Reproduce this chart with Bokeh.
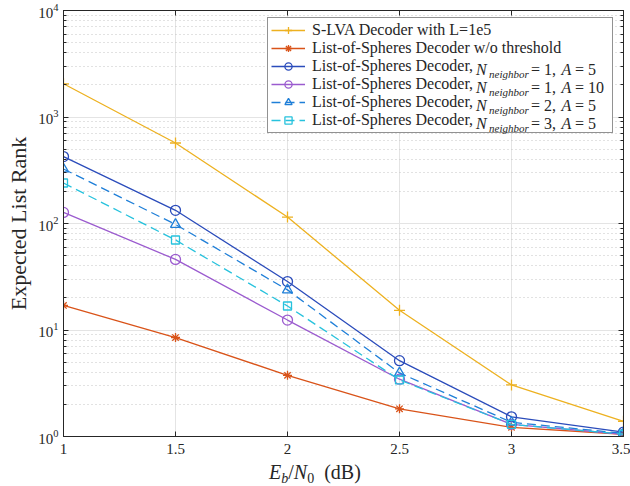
from bokeh.plotting import figure
from bokeh.models import (Legend, LegendItem, FixedTicker, LogAxis, LinearAxis,
                          CustomJSTickFormatter, Range1d, Div)
from bokeh.layouts import column
from bokeh.embed import file_html
from bokeh.resources import INLINE

# ---------------- data ----------------
ebn0 = [1.0, 1.5, 2.0, 2.5, 3.0, 3.5]
slva = [2050, 570, 115, 15.3, 3.05, 1.39]
los_nothr = [17.0, 8.5, 3.75, 1.82, 1.22, 1.05]
los_n1_a5 = [425, 133, 28.5, 5.15, 1.53, 1.10]
los_n1_a10 = [127, 46, 12.4, 3.45, 1.30, 1.05]
los_n2_a5 = [325, 98, 23.8, 3.95, 1.36, 1.07]
los_n3_a5 = [240, 70, 16.8, 3.40, 1.30, 1.05]

x_ticks = [1, 1.5, 2, 2.5, 3, 3.5]
y_major = [1, 10, 100, 1000, 10000]
y_minor = [m * 10 ** d for d in range(4) for m in range(2, 10)]

legend_main = ["S-LVA Decoder with L=1e5", "List-of-Spheres Decoder w/o threshold",
               "List-of-Spheres Decoder,", "List-of-Spheres Decoder,",
               "List-of-Spheres Decoder,", "List-of-Spheres Decoder,"]
n_neighbor = [None, None, "1", "1", "2", "3"]
a_value = [None, None, "5", "10", "5", "5"]

SERIF = "Liberation Serif"
AX = "#262626"

p = figure(width=630, height=466, y_axis_type="log",
           x_range=Range1d(1, 3.5), y_range=Range1d(1, 1e4),
           output_backend="svg", toolbar_location=None,
           min_border_left=63, min_border_right=7, min_border_top=10, min_border_bottom=30)
p.outline_line_color = AX
p.background_fill_color = "white"

xt = FixedTicker(ticks=x_ticks)
yt = FixedTicker(ticks=y_major, minor_ticks=y_minor)
fmt = CustomJSTickFormatter(code="return tick.toString();")
blank = CustomJSTickFormatter(code="return '';")

bottom_ax = p.below[0]
left_ax = p.left[0]
bottom_ax.ticker = xt
bottom_ax.formatter = fmt
left_ax.ticker = yt

top_ax = LinearAxis(ticker=xt, formatter=blank)
right_ax = LogAxis(ticker=yt, formatter=blank)
p.add_layout(top_ax, "above")
p.add_layout(right_ax, "right")

for ax in [bottom_ax, left_ax, top_ax, right_ax]:
    ax.axis_line_color = AX
    ax.axis_line_width = 1
    ax.major_tick_line_color = AX
    ax.minor_tick_line_color = AX
    ax.major_tick_in = 5
    ax.major_tick_out = 0
    ax.minor_tick_in = 3
    ax.minor_tick_out = 0
    ax.major_label_text_font = SERIF
    ax.major_label_text_font_size = "15px"
    ax.major_label_text_color = AX
    ax.major_label_standoff = 5
bottom_ax.major_label_standoff = 7
for ax in [bottom_ax, top_ax]:
    ax.minor_tick_line_color = None
for ax in [top_ax, right_ax]:
    ax.major_label_standoff = 0

left_ax.axis_label = "Expected List Rank"
left_ax.axis_label_text_font = SERIF
left_ax.axis_label_text_font_size = "22px"
left_ax.axis_label_text_font_style = "normal"
left_ax.axis_label_text_color = AX
left_ax.axis_label_standoff = 4

p.xgrid.ticker = xt
p.ygrid.ticker = yt
p.xgrid.grid_line_color = "#e4e4e4"
p.ygrid.grid_line_color = "#e4e4e4"
p.ygrid.minor_grid_line_color = "#c4c4c4"
p.ygrid.minor_grid_line_dash = "1 3"
p.ygrid.minor_grid_line_width = 1

styles = [
    (slva, "#EDB120", "cross", 11, None),
    (los_nothr, "#D95319", "asterisk", 9, None),
    (los_n1_a5, "#2B4CBB", "circle", 10, None),
    (los_n1_a10, "#9B5BCF", "circle", 10, None),
    (los_n2_a5, "#1F7FD8", "triangle", 10, "9 5"),
    (los_n3_a5, "#27C2DD", "square", 8, "9 5"),
]

items = []
for (ys, col, mk, sz, dash), lab in zip(styles, legend_main):
    kw = dict(line_dash=dash) if dash else {}
    ln = p.line(ebn0, ys, line_color=col, line_width=1.3, **kw)
    sc = p.scatter(ebn0, ys, marker=mk, size=sz, line_color=col, fill_color=None, line_width=1.3)
    items.append(LegendItem(label=lab, renderers=[ln, sc]))

# invisible helper renderer used only as a (blank) legend glyph for the text-only legends
ghost = p.line(ebn0, slva, line_alpha=0)

FL, FB = 63, 436          # frame left / bottom, canvas px
LEG_TOP = 18.5
ROW = 18
PAD = 3
NROWS = len(legend_main)
leg_bottom = FB - (LEG_TOP + NROWS * ROW + 2 * PAD)

common = dict(glyph_height=ROW, label_height=ROW, spacing=0, padding=PAD, margin=0,
              label_text_color=AX, label_text_font=SERIF)

legend = Legend(items=items, location=(267 - FL, leg_bottom),
                label_text_font_size="16px", glyph_width=34, label_width=297,
                label_standoff=7, border_line_color=AX, border_line_width=1,
                background_fill_color="white", background_fill_alpha=1, **common)
p.add_layout(legend, "center")


def text_legend(texts, text_x, size, italic=False, dy=0.0):
    its = [LegendItem(label=t if t else " ", renderers=[ghost]) for t in texts]
    lg = Legend(items=its, location=(text_x - FL, leg_bottom - dy),
                label_text_font_size=f"{size}px",
                label_text_font_style="italic" if italic else "normal",
                glyph_width=0, label_width=0, label_standoff=0,
                border_line_color=None, background_fill_alpha=0,
                inactive_fill_alpha=0, **common)
    p.add_layout(lg, "center")


text_legend(["N" if n else None for n in n_neighbor], 476, 16, italic=True)
text_legend(["neighbor" if n else None for n in n_neighbor], 489, 11, italic=True, dy=4.5)
text_legend([f"= {n}," if n else None for n in n_neighbor], 531, 16)
text_legend(["A" if a else None for a in a_value], 561.5, 16, italic=True)
text_legend([f"= {a}" if a else None for a in a_value], 575, 16)

xlabel_html = (
    '<div style="position:absolute; left:269px; top:-4px; white-space:nowrap; '
    'font-family:\'Liberation Serif\'; font-size:20px; line-height:20px; color:#262626;">'
    '<i>E</i><span style="font-size:14px; position:relative; top:4px; font-style:italic;">b</span>'
    '/<i>N</i><span style="font-size:14px; position:relative; top:4px;">0</span>'
    '<span style="margin-left:10px;">(dB)</span></div>'
)
xlabel = Div(text=xlabel_html, width=630, height=20, margin=0)

open("out.html", "w").write(file_html(column(p, xlabel, spacing=0), INLINE))
